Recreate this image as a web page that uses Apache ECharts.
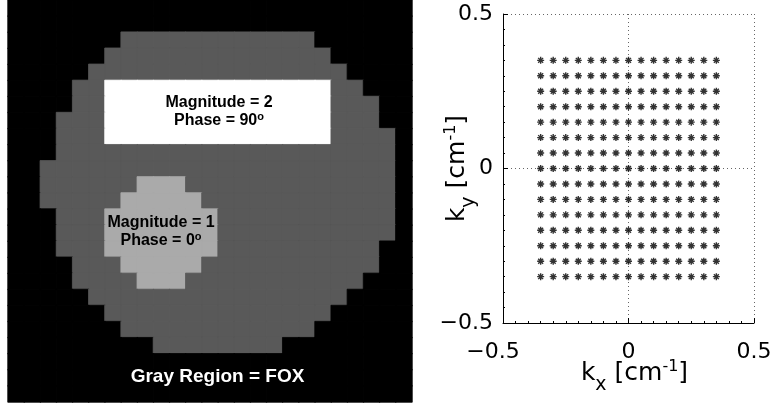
<!DOCTYPE html>
<html>
<head>
<meta charset="utf-8">
<script src="https://cdn.jsdelivr.net/npm/echarts@6/dist/echarts.min.js"></script>
<style>
  html, body { margin: 0; padding: 0; background: #fff; }
  #c { width: 776px; height: 406px; }
</style>
</head>
<body>
<div id="c"></div>
<script>
// Phantom image, one string per pixel row (top to bottom).
// '.' background, 'g' object (FOX), 'l' magnitude-1 disc, 'w' magnitude-2 block
const phantomRows = [
  '.........................',
  '.........................',
  '.......gggggggggggg......',
  '......gggggggggggggg.....',
  '.....gggggggggggggggg....',
  '....ggwwwwwwwwwwwwwwgg...',
  '....ggwwwwwwwwwwwwwwggg..',
  '...gggwwwwwwwwwwwwwwggg..',
  '...gggwwwwwwwwwwwwwwgggg.',
  '...ggggggggggggggggggggg.',
  '..gggggggggggggggggggggg.',
  '..gggggglllggggggggggggg.',
  '..ggggglllllgggggggggggg.',
  '...ggglllllllggggggggggg.',
  '...ggglllllllggggggggggg.',
  '...ggglllllllgggggggggg..',
  '....ggglllllggggggggggg..',
  '....gggglllggggggggggg...',
  '.....gggggggggggggggg....',
  '......gggggggggggggg.....',
  '.......gggggggggggg......',
  '.........gggggggg........',
  '.........................',
  '.........................',
  '.........................'
];
const levelCodes = ['.', 'g', 'l', 'w'];
const levelColors = ['#000000', '#595959', '#aaaaaa', '#ffffff'];

// k-space sample positions [cm^-1]
const kxSamples = [-0.35, -0.30, -0.25, -0.20, -0.15, -0.10, -0.05, 0, 0.05, 0.10, 0.15, 0.20, 0.25, 0.30, 0.35];
const kySamples = [-0.35, -0.30, -0.25, -0.20, -0.15, -0.10, -0.05, 0, 0.05, 0.10, 0.15, 0.20, 0.25, 0.30, 0.35];
const kAxisMin = -0.5;
const kAxisMax = 0.5;
const kAxisStep = 0.5;

// region annotations
const regionLabels = [
  { lines: ['Magnitude = 2', 'Phase = 90{s|o}'], color: '#000' },
  { lines: ['Magnitude = 1', 'Phase = 0{s|o}'], color: '#000' },
  { lines: ['Gray Region = FOX'], color: '#fff' }
];

// one heatmap cell per image pixel, coloured by its level
const heatData = [];
phantomRows.forEach((row, r) => {
  for (let c = 0; c < row.length; c++) {
    const level = levelCodes.indexOf(row[c]);
    const col = levelColors[level];
    heatData.push({
      value: [c, r, level],
      itemStyle: { color: col, borderColor: col, borderWidth: 0.8 }
    });
  }
});
const colIds = phantomRows[0].split('').map((_, i) => i);
const rowIds = phantomRows.map((_, i) => i);

const kPoints = [];
kySamples.forEach(ky => kxSamples.forEach(kx => kPoints.push([kx, ky])));

// eight-armed asterisk marker
const asterisk = 'path://M5,0L5,10M0,5L10,5M1.46,1.46L8.54,8.54M1.46,8.54L8.54,1.46';

const tickFont = 'DejaVu Sans';
const minusText = v => (v < 0 ? '\u2212' + Math.abs(v) : String(v));

const nameRich = {
  m: { fontFamily: tickFont, fontSize: 25, lineHeight: 36, verticalAlign: 'top', padding: [2, 0, 0, 0], color: '#000' },
  sub: { fontFamily: tickFont, fontSize: 19, verticalAlign: 'bottom', color: '#000' },
  sup: { fontFamily: tickFont, fontSize: 16, verticalAlign: 'top', color: '#000' }
};
const nameStyle = { fontFamily: tickFont, fontSize: 25, color: '#000', rich: nameRich };

const labelFont = 'Liberation Sans, Arial, sans-serif';
const supStyle = { s: { fontSize: 11, verticalAlign: 'top', fontWeight: 'bold', fontFamily: labelFont } };

const chart = echarts.init(document.getElementById('c'), null, { renderer: 'canvas', width: 776, height: 406 });

chart.setOption({
  animation: false,
  backgroundColor: '#fff',
  grid: [
    { left: 8, top: -2, width: 404, height: 404 },
    { left: 503, top: 14, width: 251, height: 309 }
  ],
  xAxis: [
    { gridIndex: 0, type: 'category', data: colIds, show: false },
    {
      gridIndex: 1, type: 'value', min: kAxisMin, max: kAxisMax, interval: kAxisStep,
      axisLine: { onZero: false, lineStyle: { color: '#000', width: 1 } },
      axisTick: { inside: true, length: 5, lineStyle: { color: '#000' } },
      minorTick: { show: true, splitNumber: 10, length: 2, lineStyle: { color: '#000' } },
      splitLine: { show: true, lineStyle: { color: '#666', type: [1, 3], width: 1 } },
      axisLabel: {
        formatter: v => (v < 0 ? '{n|' + minusText(v) + '}' : minusText(v)),
        fontFamily: tickFont, fontSize: 22, color: '#000', margin: 18,
        rich: { n: { fontFamily: tickFont, fontSize: 22, color: '#000', padding: [0, 20, 0, 0] } }
      },
      name: '{m|k}{sub|x}{m| [cm}{sup|-1}{m|]}',
      nameLocation: 'middle',
      nameGap: 36,
      nameMoveOverlap: false,
      nameTextStyle: Object.assign({ padding: [0, 0, 0, 12] }, nameStyle)
    }
  ],
  yAxis: [
    { gridIndex: 0, type: 'category', data: rowIds, inverse: true, show: false },
    {
      gridIndex: 1, type: 'value', min: kAxisMin, max: kAxisMax, interval: kAxisStep,
      axisLine: { onZero: false, lineStyle: { color: '#000', width: 1 } },
      axisTick: { inside: true, length: 5, lineStyle: { color: '#000' } },
      minorTick: { show: true, splitNumber: 10, length: 2, lineStyle: { color: '#000' } },
      splitLine: { show: true, lineStyle: { color: '#666', type: [1, 3], width: 1 } },
      axisLabel: {
        formatter: minusText, fontFamily: tickFont, fontSize: 22, color: '#000', margin: 10,
        padding: [5, 0, 0, 0]
      },
      name: '{m|k}{sub|y}{m| [cm}{sup|-1}{m|]}',
      nameLocation: 'middle',
      nameGap: 24,
      nameRotate: 90,
      nameMoveOverlap: false,
      nameTextStyle: nameStyle
    }
  ],
  series: [
    {
      type: 'heatmap', xAxisIndex: 0, yAxisIndex: 0, data: heatData, silent: true,
      progressive: 0
    },
    {
      type: 'scatter', xAxisIndex: 1, yAxisIndex: 1, data: kPoints, silent: true,
      symbol: asterisk, symbolSize: 7,
      itemStyle: { color: '#000', borderColor: '#000', borderWidth: 1.4 }
    }
  ],
  graphic: [
    {
      type: 'text', z: 100, x: 219, y: 111.5,
      style: {
        text: regionLabels[0].lines.join('\n'), fill: regionLabels[0].color,
        align: 'center', verticalAlign: 'middle', lineHeight: 18,
        fontSize: 16, fontWeight: 'bold', fontFamily: labelFont,
        rich: supStyle
      }
    },
    {
      type: 'text', z: 100, x: 161, y: 231.5,
      style: {
        text: regionLabels[1].lines.join('\n'), fill: regionLabels[1].color,
        align: 'center', verticalAlign: 'middle', lineHeight: 18.5,
        fontSize: 16, fontWeight: 'bold', fontFamily: labelFont,
        rich: supStyle
      }
    },
    {
      type: 'text', z: 100, x: 217.5, y: 377,
      style: {
        text: regionLabels[2].lines.join('\n'), fill: regionLabels[2].color,
        align: 'center', verticalAlign: 'middle',
        fontSize: 19, fontWeight: 'bold', fontFamily: labelFont
      }
    }
  ]
});
</script>
</body>
</html>
